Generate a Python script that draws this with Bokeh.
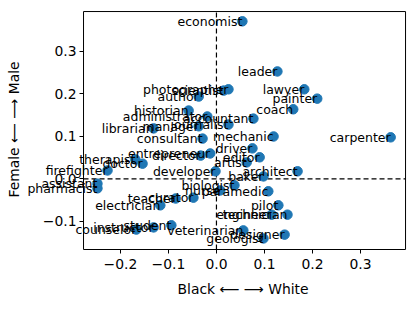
from bokeh.plotting import figure
from bokeh.models import ColumnDataSource, Label, FixedTicker, BoxAnnotation, Title
from bokeh.embed import file_html
from bokeh.resources import INLINE

occupations = [
    "economist", "leader", "lawyer", "painter", "coach", "carpenter", "mechanic",
    "architect", "baker", "editor", "artist", "driver", "paramedic", "pilot",
    "engineer", "technician", "designer", "geologist", "veterinarian", "counselor",
    "instructor", "student", "electrician", "teacher", "curator", "nurse",
    "biologist", "developer", "entrepreneur", "director", "doctor", "therapist",
    "firefighter", "assistant", "pharmacist", "consultant", "librarian",
    "historian", "administrator", "journalist", "accountant", "manager",
    "photographer", "scientist", "author",
]
race_axis = [
    0.054, 0.127, 0.183, 0.210, 0.160, 0.363, 0.119,
    0.169, 0.098, 0.090, 0.063, 0.075, 0.108, 0.129,
    0.115, 0.148, 0.142, 0.098, 0.056, -0.167,
    -0.131, -0.094, -0.117, -0.085, -0.048, 0.008,
    0.0375, -0.002, -0.013, -0.033, -0.154, -0.169,
    -0.227, -0.248, -0.248, -0.029, -0.131,
    -0.058, -0.019, 0.025, 0.077, -0.037,
    0.025, 0.015, -0.037,
]
gender_axis = [
    0.371, 0.253, 0.211, 0.189, 0.164, 0.098, 0.100,
    0.018, 0.006, 0.051, 0.039, 0.072, -0.029, -0.062,
    -0.084, -0.084, -0.131, -0.140, -0.121, -0.119,
    -0.114, -0.109, -0.062, -0.046, -0.044, -0.027,
    -0.015, 0.018, 0.060, 0.055, 0.036, 0.046,
    0.020, -0.011, -0.022, 0.095, 0.119,
    0.161, 0.147, 0.128, 0.142, 0.124,
    0.211, 0.208, 0.194,
]
x_ticks = [-0.2, -0.1, 0.0, 0.1, 0.2, 0.3]
x_tick_labels = ["\u22120.2", "\u22120.1", "0.0", "0.1", "0.2", "0.3"]
y_ticks = [-0.1, 0.0, 0.1, 0.2, 0.3]
y_tick_labels = ["\u22120.1", "0.0", "0.1", "0.2", "0.3"]
x_label = "Black \u27f5 \u27f6 White"
y_label = "Female \u27f5 \u27f6 Male"

# axes box limits (data units)
x_lo, x_hi = -0.277, 0.394
y_lo, y_hi = -0.166, 0.394

src = ColumnDataSource(dict(x=race_axis, y=gender_axis, name=occupations))

# The drawing frame is wider than the axes box so that occupation labels
# may run past the left edge of the box (as in the reference) without clipping.
p = figure(width=407, height=304, x_range=(-0.45, 0.3981), y_range=(y_lo, 0.3988),
           output_backend="svg", toolbar_location=None,
           min_border_left=0, min_border_right=0, min_border_top=9, min_border_bottom=55)
p.background_fill_color = "white"
p.border_fill_color = "white"
p.outline_line_color = None
p.grid.visible = False

p.xaxis.ticker = FixedTicker(ticks=x_ticks)
p.yaxis.ticker = FixedTicker(ticks=y_ticks)
p.xaxis.major_label_overrides = {t: l for t, l in zip(x_ticks, x_tick_labels)}
p.yaxis.major_label_overrides = {t: l for t, l in zip(y_ticks, y_tick_labels)}
p.xaxis.bounds = (x_lo, x_hi)
p.yaxis.fixed_location = x_lo
for ax in (p.xaxis, p.yaxis):
    ax.minor_tick_line_color = None
    ax.major_tick_in = 0
    ax.major_tick_out = 4
    ax.major_tick_line_color = "black"
    ax.major_label_text_font = "DejaVu Sans"
    ax.major_label_text_font_size = "13.9px"
    ax.major_label_text_color = "black"
    ax.axis_label_text_font = "DejaVu Sans"
    ax.axis_label_text_font_size = "13.9px"
    ax.axis_label_text_font_style = "normal"
    ax.axis_label_text_color = "black"
p.xaxis.axis_line_color = "black"
p.yaxis.axis_line_color = None
p.yaxis.axis_label = y_label
p.xaxis.major_label_standoff = 5
p.yaxis.major_label_standoff = 3
p.yaxis.axis_label_standoff = 18

# x axis title, placed under the axes box (not the wider frame)
p.add_layout(Title(text=x_label, align="left", offset=177, standoff=15,
                   text_font="DejaVu Sans", text_font_size="13.9px",
                   text_font_style="normal", text_color="black"), "below")

# axes box
p.add_layout(BoxAnnotation(left=x_lo, right=x_hi, bottom=y_lo, top=y_hi,
                           fill_alpha=0, line_color="black", line_width=1, line_alpha=1))

# dashed zero lines, limited to the axes box
p.segment(x0=[x_lo, 0], y0=[0, y_lo], x1=[x_hi, 0], y1=[0, y_hi],
          line_color="black", line_width=1.2, line_dash="5 3")

p.scatter("x", "y", source=src, size=9.5, fill_color="#1f77b4", line_color="#1f77b4")

for name, xv, yv in zip(occupations, race_axis, gender_axis):
    p.add_layout(Label(x=xv, y=yv, x_units="data", y_units="data", text=name,
                       text_align="right", text_baseline="alphabetic",
                       text_font="DejaVu Sans", text_font_size="12.5px",
                       text_color="black"))

open("out.html", "w").write(file_html(p, INLINE))
